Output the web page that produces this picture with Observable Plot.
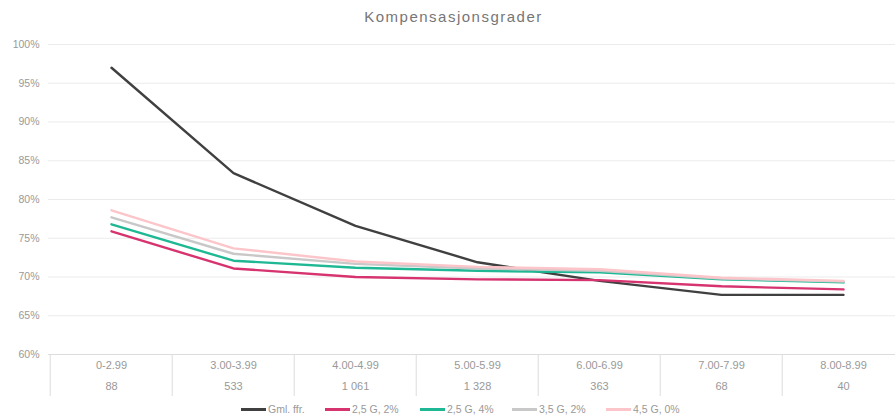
<!DOCTYPE html>
<html><head><meta charset="utf-8">
<script src="https://cdn.jsdelivr.net/npm/d3@7"></script>
<script src="https://cdn.jsdelivr.net/npm/@observablehq/plot@0.6"></script>
<style>
body{margin:0;background:#fff;font-family:"Liberation Sans",Arial,sans-serif;width:895px;height:418px;overflow:hidden;position:relative}
#title{height:30px;line-height:34px;text-align:center;font-size:15px;letter-spacing:1.5px;color:#767676;padding-left:12px}
#chart{height:370px}
#legend{position:relative;height:18px}
.item{position:absolute;top:0;height:18px;display:flex;align-items:center;font-size:10.5px;color:#999;white-space:nowrap}
.sw{width:25px;height:3px;margin-right:2px}
</style></head>
<body>
<div id="title">Kompensasjonsgrader</div>
<div id="chart"></div>
<div id="legend"></div>
<script>
const categories = ["0-2.99","3.00-3.99","4.00-4.99","5.00-5.99","6.00-6.99","7.00-7.99","8.00-8.99"];
const counts = ["88","533","1 061","1 328","363","68","40"];
const seriesNames = ["Gml. ffr.","2,5 G, 2%","2,5 G, 4%","3,5 G, 2%","4,5 G, 0%"];
const seriesColors = ["#404040","#d6336f","#1fb894","#c8c8c8","#fbc5ca"];
const gml   = [97.0, 83.4, 76.6, 71.9, 69.5, 67.7, 67.7];
const g25_2 = [75.9, 71.1, 70.0, 69.7, 69.6, 68.8, 68.4];
const g25_4 = [76.8, 72.1, 71.2, 70.8, 70.6, 69.7, 69.3];
const g35_2 = [77.7, 73.0, 71.7, 71.1, 70.8, 69.8, 69.4];
const g45_0 = [78.6, 73.7, 72.0, 71.3, 71.0, 69.9, 69.5];
const yTicks = [60, 65, 70, 75, 80, 85, 90, 95, 100];

const seriesValues = [gml, g25_2, g25_4, g35_2, g45_0];
const table = [];
seriesValues.forEach((vals, s) => vals.forEach((v, i) => table.push({cat: categories[i], value: v, series: seriesNames[s]})));
const countRows = categories.map((c, i) => ({cat: c, n: counts[i]}));

const left = 48, right = 906;
const half = (right - left) / categories.length / 2;

const chart = Plot.plot({
  width: 895, height: 370,
  marginTop: 14, marginBottom: 46, marginLeft: left, marginRight: 0,
  style: {fontFamily: "Liberation Sans, Arial, sans-serif", background: "#fff"},
  x: {type: "point", domain: categories, range: [left, right], padding: 0.5, axis: null},
  y: {domain: [60, 100], axis: null},
  color: {domain: seriesNames, range: seriesColors},
  marks: [
    Plot.ruleY(yTicks.filter(d => d > 60), {stroke: "#ebebeb", strokeWidth: 1}),
    Plot.ruleY([60], {stroke: "#dcdcdc", strokeWidth: 1}),
    Plot.ruleX(categories, {x: d => d, dx: -half, stroke: "#dcdcdc", strokeWidth: 1, insetTop: 310, insetBottom: -42}),
    Plot.axisY(yTicks, {tickSize: 0, tickPadding: 9, tickFormat: d => d + "%", fontSize: 10.5, color: "#999", label: null}),
    Plot.text(categories, {x: d => d, text: d => d, frameAnchor: "bottom", dy: 14, fontSize: 11, fill: "#999"}),
    Plot.text(countRows, {x: "cat", text: "n", frameAnchor: "bottom", dy: 35, fontSize: 11, fill: "#999"}),
    Plot.line(table, {x: "cat", y: "value", stroke: "series", strokeWidth: 2.4, curve: "linear"})
  ]
});
document.getElementById("chart").appendChild(chart);

const legendX = [241, 325, 420, 512, 606];
const legend = document.getElementById("legend");
seriesNames.forEach((name, i) => {
  const it = document.createElement("div");
  it.className = "item";
  it.style.left = legendX[i] + "px";
  it.innerHTML = `<div class="sw" style="background:${seriesColors[i]}"></div><span>${name}</span>`;
  legend.appendChild(it);
});
</script>
</body></html>
